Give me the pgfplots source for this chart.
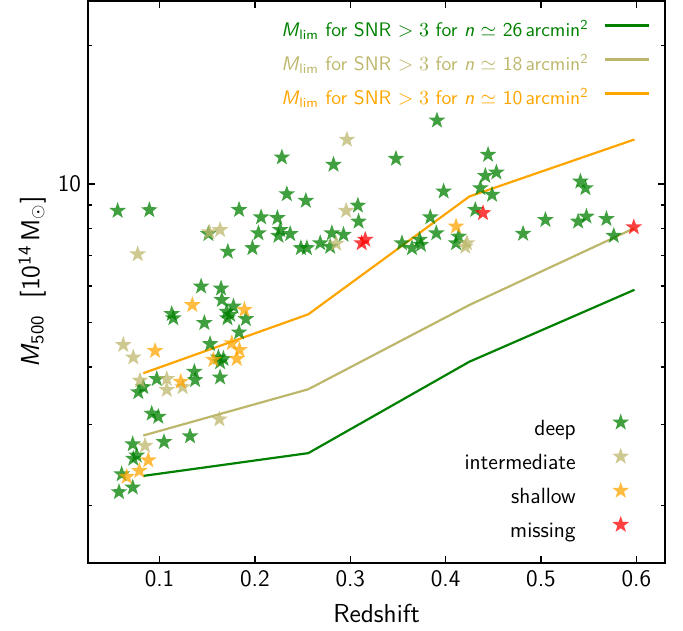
\documentclass[border=0pt]{standalone}
\usepackage{pgfplots}
\pgfplotsset{compat=1.18}
\renewcommand{\familydefault}{\sfdefault}
\definecolor{mgreen}{HTML}{008000}
\definecolor{mkhaki}{HTML}{BDB76B}
\definecolor{morange}{HTML}{FFA500}
\definecolor{mred}{HTML}{FF0000}

% filled five-pointed star
\pgfdeclareplotmark{fstar}{%
  \pgfpathmoveto{\pgfpointpolar{90}{\pgfplotmarksize}}%
  \pgfpathlineto{\pgfpointpolar{126}{0.4\pgfplotmarksize}}%
  \pgfpathlineto{\pgfpointpolar{162}{\pgfplotmarksize}}%
  \pgfpathlineto{\pgfpointpolar{198}{0.4\pgfplotmarksize}}%
  \pgfpathlineto{\pgfpointpolar{234}{\pgfplotmarksize}}%
  \pgfpathlineto{\pgfpointpolar{270}{0.4\pgfplotmarksize}}%
  \pgfpathlineto{\pgfpointpolar{306}{\pgfplotmarksize}}%
  \pgfpathlineto{\pgfpointpolar{342}{0.4\pgfplotmarksize}}%
  \pgfpathlineto{\pgfpointpolar{18}{\pgfplotmarksize}}%
  \pgfpathlineto{\pgfpointpolar{54}{0.4\pgfplotmarksize}}%
  \pgfpathclose\pgfusepathqfill}

\pgfplotstableread{
x      M
0.0561 8.75
0.0893 8.78
0.1834 8.79
0.1512 7.79
0.1716 7.13
0.2065 8.47
0.2037 7.82
0.1974 7.26
0.2236 8.44
0.2283 11.43
0.2335 9.51
0.2534 9.20
0.2265 7.95
0.2247 7.72
0.2370 7.79
0.2482 7.26
0.2545 7.26
0.2685 7.44
0.2789 7.31
0.2807 7.82
0.2929 7.76
0.2824 11.02
0.3080 8.98
0.3087 8.29
0.1436 5.99
0.1645 5.93
0.3479 11.35
0.3909 13.75
0.3979 9.64
0.3839 8.47
0.3902 7.82
0.3542 7.44
0.3647 7.26
0.3727 7.57
0.3741 7.38
0.4136 7.69
0.4109 7.44
0.4311 8.79
0.4364 9.80
0.4416 10.42
0.4532 10.60
0.4445 11.58
0.4487 9.48
0.4812 7.80
0.5046 8.36
0.5413 10.13
0.5466 9.80
0.5389 8.29
0.5476 8.50
0.5686 8.40
0.5763 7.72
0.1653 5.60
0.1775 5.42
0.1705 5.28
0.1740 5.20
0.1712 5.11
0.1905 5.09
0.1128 5.22
0.1145 5.11
0.1470 4.99
0.1834 4.76
0.1530 4.49
0.1617 4.20
0.1670 4.17
0.1635 4.10
0.1365 3.91
0.1373 3.75
0.1635 3.80
0.0830 3.62
0.0778 3.53
0.0971 3.77
0.0918 3.17
0.0987 3.12
0.0719 2.72
0.0761 2.57
0.0725 2.53
0.1047 2.75
0.1320 2.83
0.0603 2.34
0.0719 2.19
0.0575 2.14
}\deeptab

\pgfplotstableread{
x      M
0.0771 7.04
0.1635 7.95
0.1523 7.86
0.2852 7.42
0.2965 12.49
0.2957 8.75
0.4224 7.44
0.4206 7.31
0.0620 4.47
0.0725 4.20
0.0795 3.74
0.1076 3.77
0.1076 3.57
0.1243 3.62
0.1628 3.08
0.0848 2.70
}\intertab

\pgfplotstableread{
x      M
0.4109 8.09
0.1890 5.33
0.1344 5.46
0.1758 4.51
0.1838 4.36
0.1810 4.17
0.1565 4.15
0.0953 4.34
0.1223 3.72
0.0882 2.51
0.0788 2.38
0.0656 2.31
}\shallowtab

\pgfplotstableread{
x      M
0.3120 7.44
0.3157 7.57
0.4392 8.65
0.5973 8.06
}\missingtab

\pgfplotstableread{
x     deep  inter  shallow
0.083 2.32  2.84   3.88
0.256 2.60  3.58   5.21
0.425 4.11  5.46   9.40
0.598 5.89  8.02   12.5
}\limtab

\begin{document}
\begin{tikzpicture}[font=\fontsize{13}{15.5}\selectfont]
\begin{axis}[
  width=288.5pt, height=281pt, scale only axis,
  xmin=0.025, xmax=0.63, ymode=log, ymin=1.5, ymax=25,
  axis line style={line width=0.6pt},
  every tick/.style={black, line width=0.6pt},
  major tick length=3.5pt, minor tick length=2pt,
  tick label style={font=\fontsize{11.8}{14}\selectfont},
  xtick={0.1,0.2,0.3,0.4,0.5,0.6},
  xticklabel style={/pgf/number format/fixed, /pgf/number format/precision=1},
  /pgf/number format/assume math mode=true,
  ytick={10}, yticklabels={10},
  minor ytick={2,3,4,5,6,7,8,9,20},
  xlabel={Redshift},
  ylabel={\textit{M}\textsubscript{500}\ \ [10\textsuperscript{14}\,M\textsubscript{$\odot$}]},
  xlabel style={at={(axis description cs:0.5,0)}, yshift=-25pt, anchor=center},
  ylabel style={at={(axis description cs:-0.097,0.5)}, anchor=center},
  legend plot pos=right,
  legend cell align=right,
  legend style={at={(axis description cs:0.9846,0.9875)}, anchor=north east,
    draw=none, fill=none, font=\fontsize{9.8}{11.5}\selectfont,
    row sep=2pt, column sep=0pt,
    nodes={inner sep=0pt, text height=9pt, text depth=3pt}},
  legend image code/.code={%
    \path[draw=none, fill=none] (0pt,-3pt) rectangle (30pt,9pt);
    \draw[#1] (8pt,2.5pt) -- (30pt,2.5pt);},
]
\coordinate (bl) at (rel axis cs:0,0);
\coordinate (tr) at (rel axis cs:1,1);
\addplot[mgreen, line width=1.1pt] table[x=x, y=deep] {\limtab};
\addlegendentry{\textcolor{mgreen}{\textit{M}\textsubscript{lim} for SNR $>3$ for \textit{n} $\simeq$ 26\,arcmin\textsuperscript{2}}}
\addplot[mkhaki, line width=1.1pt] table[x=x, y=inter] {\limtab};
\addlegendentry{\textcolor{mkhaki}{\textit{M}\textsubscript{lim} for SNR $>3$ for \textit{n} $\simeq$ 18\,arcmin\textsuperscript{2}}}
\addplot[morange, line width=1.1pt] table[x=x, y=shallow] {\limtab};
\addlegendentry{\textcolor{morange}{\textit{M}\textsubscript{lim} for SNR $>3$ for \textit{n} $\simeq$ 10\,arcmin\textsuperscript{2}}}
\end{axis}

\begin{axis}[
  width=288.5pt, height=281pt, scale only axis,
  xmin=0.025, xmax=0.63, ymode=log, ymin=1.5, ymax=25,
  hide axis,
  legend plot pos=right,
  legend cell align=right,
  legend style={at={(axis description cs:0.969,0.0265)}, anchor=south east,
    draw=none, fill=none, font=\fontsize{11}{13}\selectfont,
    row sep=2.05pt, column sep=0pt,
    nodes={inner sep=0pt, text height=9pt, text depth=3pt}},
  legend image code/.code={%
    \path[draw=none, fill=none] (0pt,-3pt) rectangle (32.5pt,9pt);
    \begin{pgfinterruptboundingbox}
      \draw[#1] plot coordinates {(22.5pt,3.5pt)};
    \end{pgfinterruptboundingbox}},
]
\addplot[only marks, mark=fstar, mark size=4.4pt, color=mgreen, mark options={fill opacity=0.75}] table[x=x, y=M] {\deeptab};
\addlegendentry{deep}
\addplot[only marks, mark=fstar, mark size=4.4pt, color=mkhaki, mark options={fill opacity=0.75}] table[x=x, y=M] {\intertab};
\addlegendentry{intermediate}
\addplot[only marks, mark=fstar, mark size=4.4pt, color=morange, mark options={fill opacity=0.75}] table[x=x, y=M] {\shallowtab};
\addlegendentry{shallow}
\addplot[only marks, mark=fstar, mark size=4.4pt, color=mred, mark options={fill opacity=0.75}] table[x=x, y=M] {\missingtab};
\addlegendentry{missing}
\end{axis}
\pgfresetboundingbox
\path ([shift={(-44pt,-33.5pt)}]bl) rectangle ([shift={(9pt,0.5pt)}]tr);
\end{tikzpicture}
\end{document}
